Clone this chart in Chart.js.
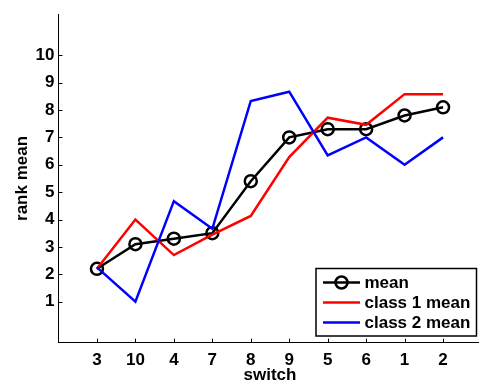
<!DOCTYPE html>
<html>
<head>
<meta charset="utf-8">
<script src="https://cdn.jsdelivr.net/npm/chart.js@4/dist/chart.umd.min.js"></script>
<style>
  html, body { margin: 0; padding: 0; overflow: hidden; background: #fff; }
  canvas { display: block; }
</style>
</head>
<body>
<canvas id="c" width="490" height="387"></canvas>
<script>
// Switch order shown along the x axis
const switchLabels = ['3', '10', '4', '7', '8', '9', '5', '6', '1', '2'];
// Mean rank per switch
const meanRank = [2.2, 3.1, 3.3, 3.5, 5.4, 7.0, 7.3, 7.3, 7.8, 8.1];
const class1Mean = [2.2, 4.0, 2.7, 3.45, 4.13, 6.28, 7.72, 7.46, 8.58, 8.58];
const class2Mean = [2.25, 1.0, 4.67, 3.66, 8.33, 8.67, 6.34, 7.0, 6.0, 7.0];
const yTickValues = [1, 2, 3, 4, 5, 6, 7, 8, 9, 10];

const FONT = { family: '"Liberation Sans", Arial, Helvetica, sans-serif', size: 17, weight: 'bold' };
const FONT_CSS = 'bold 17px "Liberation Sans", Arial, Helvetica, sans-serif';

const toPoints = arr => arr.map((v, i) => ({ x: i + 1, y: v }));

// Short inward tick marks on the left and bottom axes
const inwardTicks = {
  id: 'inwardTicks',
  afterDraw(chart) {
    const { ctx, chartArea, scales } = chart;
    ctx.save();
    ctx.strokeStyle = '#000';
    ctx.lineWidth = 1;
    ctx.beginPath();
    scales.x.ticks.forEach(t => {
      const px = Math.round(scales.x.getPixelForValue(t.value)) + 0.5;
      ctx.moveTo(px, chartArea.bottom);
      ctx.lineTo(px, chartArea.bottom - 4);
    });
    scales.y.ticks.forEach(t => {
      const py = Math.round(scales.y.getPixelForValue(t.value)) + 0.5;
      ctx.moveTo(chartArea.left, py);
      ctx.lineTo(chartArea.left + 4, py);
    });
    ctx.stroke();
    ctx.restore();
  }
};

// Boxed legend in the lower right corner of the plot
const boxLegend = {
  id: 'boxLegend',
  afterDraw(chart) {
    const { ctx } = chart;
    const box = { left: 316, top: 268.5, right: 476.5, bottom: 336 };
    ctx.save();
    ctx.fillStyle = '#fff';
    ctx.fillRect(box.left, box.top, box.right - box.left, box.bottom - box.top);
    ctx.strokeStyle = '#000';
    ctx.lineWidth = 1.5;
    ctx.strokeRect(box.left, box.top, box.right - box.left, box.bottom - box.top);
    ctx.font = FONT_CSS;
    ctx.textBaseline = 'middle';
    ctx.textAlign = 'left';
    chart.data.datasets.forEach((ds, i) => {
      const y = 282.5 + i * 20;
      ctx.strokeStyle = ds.borderColor;
      ctx.lineWidth = ds.borderWidth;
      ctx.beginPath();
      ctx.moveTo(323, y);
      ctx.lineTo(360, y);
      ctx.stroke();
      if (ds.pointRadius > 0) {
        ctx.beginPath();
        ctx.arc(341.5, y, ds.pointRadius, 0, Math.PI * 2);
        ctx.lineWidth = ds.pointBorderWidth;
        ctx.strokeStyle = ds.pointBorderColor;
        ctx.stroke();
      }
      ctx.fillStyle = '#000';
      ctx.fillText(ds.label, 364.5, y + 1);
    });
    ctx.restore();
  }
};

new Chart(document.getElementById('c'), {
  type: 'line',
  data: {
    datasets: [
      {
        label: 'mean',
        data: toPoints(meanRank),
        borderColor: '#000',
        borderWidth: 2.5,
        pointRadius: 6,
        pointBorderWidth: 2.5,
        pointBorderColor: '#000',
        pointBackgroundColor: 'rgba(0,0,0,0)',
        order: 3
      },
      {
        label: 'class 1 mean',
        data: toPoints(class1Mean),
        borderColor: '#ff0000',
        borderWidth: 2.5,
        pointRadius: 0,
        order: 2
      },
      {
        label: 'class 2 mean',
        data: toPoints(class2Mean),
        borderColor: '#0000ff',
        borderWidth: 2.5,
        pointRadius: 0,
        order: 1
      }
    ]
  },
  options: {
    responsive: false,
    animation: false,
    devicePixelRatio: 1,
    events: [],
    layout: { padding: { left: 0, top: 6, right: 4.5, bottom: 0 } },
    plugins: { legend: { display: false }, tooltip: { enabled: false } },
    elements: { line: { tension: 0, borderJoinStyle: 'miter' } },
    scales: {
      x: {
        type: 'linear',
        min: 0,
        max: 11,
        afterBuildTicks: s => { s.ticks = switchLabels.map((_, i) => ({ value: i + 1 })); },
        afterFit: s => { s.height = 44.3; },
        ticks: {
          callback: v => switchLabels[v - 1],
          font: FONT,
          color: '#000',
          padding: 7,
          maxRotation: 0,
          autoSkip: false
        },
        grid: { drawOnChartArea: false, drawTicks: false },
        border: { display: true, color: '#000', width: 1 },
        title: { display: true, text: 'switch', font: FONT, color: '#000', padding: { top: 0, bottom: 1 } }
      },
      y: {
        min: -0.5,
        max: 11.5,
        afterBuildTicks: s => { s.ticks = yTickValues.map(v => ({ value: v })); },
        afterFit: s => { s.width = 58.5; },
        ticks: { font: FONT, color: '#000', padding: 4 },
        grid: { drawOnChartArea: false, drawTicks: false },
        border: { display: true, color: '#000', width: 1 },
        title: { display: true, text: 'rank mean', font: FONT, color: '#000', padding: { top: 12, bottom: 0 } }
      }
    }
  },
  plugins: [inwardTicks, boxLegend]
});
</script>
</body>
</html>
